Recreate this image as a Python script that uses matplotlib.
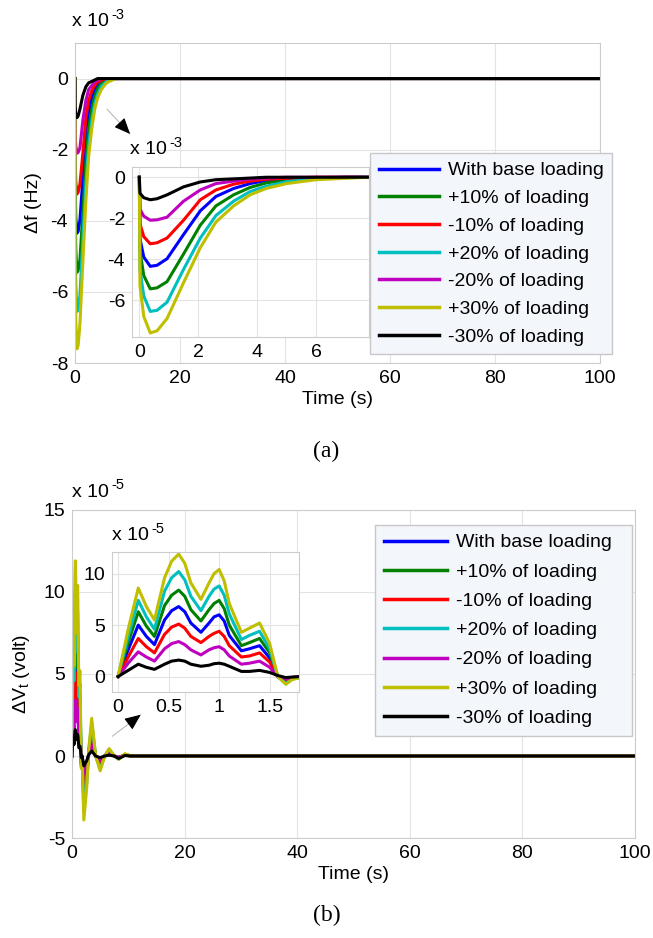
import matplotlib
matplotlib.use("Agg")
import matplotlib.pyplot as plt
from matplotlib.patches import FancyArrowPatch

plt.rcParams['font.family'] = ['Liberation Sans', 'DejaVu Sans']
plt.rcParams['font.size'] = 14
plt.rcParams['mathtext.default'] = 'regular'
plt.rcParams['axes.unicode_minus'] = False

labels = ['With base loading', '+10% of loading', '-10% of loading', '+20% of loading',
          '-20% of loading', '+30% of loading', '-30% of loading']
colors = ['#0000ff', '#008000', '#ff0000', '#00bfbf', '#bf00bf', '#bfbf00', '#000000']

# (a) frequency deviation, units of 1e-3 Hz
t_a = [0, 0.02, 0.15, 0.37, 0.6, 0.94, 1.5, 2.07, 2.6, 3.2, 3.76, 4.3, 5.0, 6.0, 7.0, 7.8, 100]
df_base = [0, -3.0, -3.9, -4.35, -4.3, -3.98, -2.8, -1.64, -0.94, -0.55, -0.31, -0.16, -0.08, -0.02, 0, 0, 0]
df_p10 = [0, -3.6, -4.8, -5.45, -5.4, -5.1, -3.75, -2.34, -1.4, -0.86, -0.5, -0.28, -0.14, -0.05, 0, 0, 0]
df_m10 = [0, -2.27, -2.9, -3.25, -3.2, -2.97, -2.1, -1.1, -0.62, -0.34, -0.19, -0.1, -0.05, 0, 0, 0, 0]
df_p20 = [0, -4.5, -5.8, -6.55, -6.5, -6.1, -4.5, -2.97, -1.87, -1.17, -0.7, -0.44, -0.22, -0.08, -0.02, 0, 0]
df_m20 = [0, -1.56, -1.9, -2.1, -2.08, -1.95, -1.17, -0.62, -0.31, -0.19, -0.09, -0.04, 0, 0, 0, 0, 0]
df_p30 = [0, -5.3, -6.8, -7.6, -7.5, -6.9, -5.15, -3.44, -2.19, -1.4, -0.86, -0.55, -0.31, -0.12, -0.05, 0, 0]
df_m30 = [0, -0.78, -1.0, -1.1, -1.05, -0.86, -0.47, -0.23, -0.12, -0.08, -0.04, 0, 0, 0, 0, 0, 0]
df_all = [df_base, df_p10, df_m10, df_p20, df_m20, df_p30, df_m30]

# (b) terminal voltage deviation, units of 1e-5 V
t_b = [0, 0.1, 0.2, 0.28, 0.36, 0.46, 0.53, 0.6, 0.66, 0.72, 0.82, 0.9, 0.95, 1.0, 1.05, 1.1,
       1.22, 1.3, 1.4, 1.5, 1.58, 1.66, 1.72, 1.8,
       2.1, 2.6, 3.0, 3.5, 4.2, 5.0, 5.8, 6.6, 7.5, 8.3, 9.4, 10.5, 12, 100]
dv_base = [0, 2.6, 5.0, 3.9, 3.1, 5.5, 6.4, 6.8, 6.3, 5.2, 4.3, 5.2, 5.8, 6.0, 5.4, 4.0,
           2.5, 2.7, 3.0, 1.8, 0, -0.45, -0.17, -0.05,
           -2.2, -1.1, 0.3, 1.3, 0, -0.5, 0, 0.25, 0, -0.12, 0.08, 0, 0, 0]
dv_p10 = [0, 3.3, 6.3, 4.9, 3.9, 6.9, 7.9, 8.4, 7.8, 6.5, 5.4, 6.5, 7.1, 7.4, 6.6, 5.0,
          3.0, 3.3, 3.7, 2.3, 0, -0.55, -0.2, -0.1,
          -2.7, -1.4, 0.35, 1.6, 0, -0.65, 0, 0.3, 0, -0.15, 0.1, 0, 0, 0]
dv_m10 = [0, 1.9, 3.7, 2.9, 2.3, 4.1, 4.8, 5.1, 4.7, 3.9, 3.3, 3.9, 4.2, 4.4, 3.9, 3.0,
          1.9, 2.0, 2.3, 1.4, 0, -0.35, -0.13, -0.05,
          -1.7, -0.9, 0.2, 1.0, 0, -0.4, 0, 0.2, 0, -0.1, 0.06, 0, 0, 0]
dv_p20 = [0, 3.9, 7.4, 5.8, 4.6, 8.3, 9.6, 10.2, 9.4, 7.8, 6.4, 7.8, 8.5, 8.8, 7.9, 6.1,
          3.6, 4.0, 4.4, 2.7, 0, -0.65, -0.25, -0.1,
          -3.3, -1.7, 0.4, 2.0, 0, -0.8, 0, 0.4, 0, -0.2, 0.1, 0, 0, 0]
dv_m20 = [0, 1.3, 2.4, 1.9, 1.5, 2.7, 3.2, 3.4, 3.1, 2.6, 2.1, 2.6, 2.8, 2.9, 2.6, 2.0,
          1.2, 1.3, 1.5, 0.9, 0, -0.22, -0.08, 0,
          -1.1, -0.6, 0.15, 0.7, 0, -0.25, 0, 0.12, 0, -0.06, 0.04, 0, 0, 0]
dv_p30 = [0, 4.6, 8.6, 6.8, 5.5, 9.6, 11.2, 11.9, 11.0, 9.1, 7.5, 9.1, 10.0, 10.4, 9.3, 7.1,
          4.3, 4.7, 5.2, 3.2, 0, -0.76, -0.3, -0.1,
          -3.9, -2.0, 0.5, 2.3, 0, -0.9, 0, 0.45, 0, -0.2, 0.14, 0, 0, 0]
dv_m30 = [0, 0.6, 1.2, 0.9, 0.7, 1.2, 1.5, 1.6, 1.5, 1.2, 1.0, 1.1, 1.25, 1.3, 1.2, 1.0,
          0.5, 0.5, 0.6, 0.4, 0.1, -0.1, -0.05, 0,
          -0.6, -0.3, 0.1, 0.3, 0, -0.1, 0, 0.05, 0, -0.15, 0.03, 0, 0, 0]
dv_all = [dv_base, dv_p10, dv_m10, dv_p20, dv_m20, dv_p30, dv_m30]

W, H = 653, 938


def style(ax):
    ax.grid(True, color='#e3e3e3', linewidth=0.8)
    ax.set_axisbelow(True)
    for sp in ax.spines.values():
        sp.set_color('#cccccc')
        sp.set_linewidth(0.8)
    ax.tick_params(length=0, pad=5, labelsize=14)


def box(l, t, r, b):
    return [l / W, 1 - b / H, (r - l) / W, (b - t) / H]


def exponent(x, y, power):
    # matlab-style "x 10^-n" multiplier above an axes
    fig.text(x / W, 1 - y / H, 'x 10', ha='left', va='center', fontsize=14)
    fig.text((x + 39) / W, 1 - (y - 7) / H, power, ha='left', va='center', fontsize=10.5)


def legend(bb, hl, sp):
    hs = [plt.Line2D([], [], color=c, lw=2.5) for c in colors]
    lg = fig.legend(hs, labels, loc='upper left', bbox_to_anchor=bb, mode='expand',
                    borderaxespad=0, fontsize=14, handlelength=hl, handletextpad=0.45,
                    labelspacing=sp, borderpad=0.45, fancybox=False)
    lg.get_frame().set_facecolor('#f3f6fb')
    lg.get_frame().set_edgecolor('#c8c8c8')
    lg.get_frame().set_alpha(1)


def pointer(p0, p1):
    a = (p0[0] / W, 1 - p0[1] / H)
    b = (p1[0] / W, 1 - p1[1] / H)
    fig.patches.append(FancyArrowPatch(a, b, transform=fig.transFigure,
                                       arrowstyle='-', color='#bbbbbb', lw=0.8))
    m = (a[0] + 0.7 * (b[0] - a[0]), a[1] + 0.7 * (b[1] - a[1]))
    fig.patches.append(FancyArrowPatch(m, b, transform=fig.transFigure,
                                       arrowstyle='-|>,head_length=0.7,head_width=0.3',
                                       color='black', lw=0.8, mutation_scale=14))


fig = plt.figure(figsize=(W / 100, H / 100), dpi=100)

# ---------- (a)
ax1 = fig.add_axes(box(75, 43, 600, 363))
for y, c in zip(df_all, colors):
    ax1.plot(t_a, y, color=c, lw=2.2)
ax1.set_xlim(0, 100)
ax1.set_ylim(-8, 1)
ax1.set_yticks([-8, -6, -4, -2, 0])
ax1.set_xticks([0, 20, 40, 60, 80, 100])
style(ax1)
ax1.set_xlabel('Time (s)', fontsize=14, labelpad=3)
ax1.set_ylabel('\u0394f (Hz)', fontsize=14, labelpad=6)
exponent(72, 22, '-3')

ins1 = fig.add_axes(box(132, 167, 369, 337))
for y, c in zip(df_all, colors):
    ins1.plot(t_a, y, color=c, lw=2.2)
ins1.set_xlim(-0.25, 7.8)
ins1.set_ylim(-7.8, 0.5)
ins1.set_xticks([0, 2, 4, 6])
ins1.set_yticks([-6, -4, -2, 0])
style(ins1)
exponent(130, 150, '-3')

legend(box(370, 153, 612, 355), 3.1, 0.52)
pointer((105, 107), (132, 136))

fig.text(0.5, 1 - 451 / H, '(a)', ha='center', va='center', fontsize=17,
         family=['Liberation Serif', 'DejaVu Serif'])

# ---------- (b)
ax2 = fig.add_axes(box(72, 510, 635, 838))
for y, c in zip(dv_all, colors):
    ax2.plot(t_b, y, color=c, lw=2.2)
ax2.set_xlim(0, 100)
ax2.set_ylim(-5, 15)
ax2.set_yticks([-5, 0, 5, 10, 15])
ax2.set_xticks([0, 20, 40, 60, 80, 100])
style(ax2)
ax2.set_xlabel('Time (s)', fontsize=14, labelpad=3)
ax2.set_ylabel('\u0394V$_t$ (volt)', fontsize=14, labelpad=8)
exponent(72, 492, '-5')

ins2 = fig.add_axes(box(112, 552, 299, 692))
for y, c in zip(dv_all, colors):
    ins2.plot(t_b, y, color=c, lw=2.2)
ins2.set_xlim(-0.06, 1.79)
ins2.set_ylim(-1.5, 12.1)
ins2.set_xticks([0, 0.5, 1, 1.5])
ins2.set_xticklabels(['0', '0.5', '1', '1.5'])
ins2.set_yticks([0, 5, 10])
style(ins2)
exponent(112, 536, '-5')

legend(box(375, 525, 632, 741), 3.25, 0.6)
pointer((110, 738), (143, 713))

fig.text(0.5, 1 - 915 / H, '(b)', ha='center', va='center', fontsize=17,
         family=['Liberation Serif', 'DejaVu Serif'])

fig.savefig('out.png', dpi=100, facecolor='white')
